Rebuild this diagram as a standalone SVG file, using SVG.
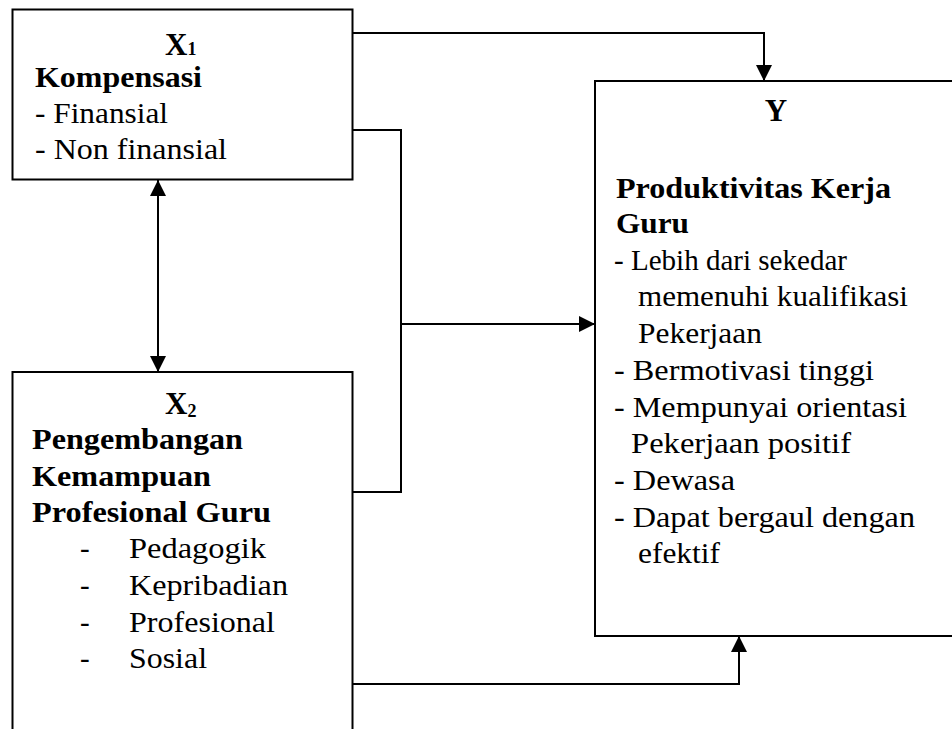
<svg xmlns="http://www.w3.org/2000/svg" width="952" height="729" viewBox="0 0 952 729">
<style>
  .box { fill: #fff; stroke: #000; stroke-width: 2; }
  .ln { fill: none; stroke: #000; stroke-width: 2; }
  text { font-family: 'Liberation Serif', 'Times New Roman', serif; font-size: 29px; fill: #000; }
  .b { font-weight: bold; }
  .xy { font-size: 31px; font-weight: bold; }
  .sub { font-size: 18px; font-weight: bold; }
</style>
<defs>
  <marker id="arr" viewBox="0 0 16 16" refX="16" refY="8" markerWidth="16" markerHeight="16" markerUnits="userSpaceOnUse" orient="auto-start-reverse">
    <path d="M0,0 L16,8 L0,16 z" fill="#000"/>
  </marker>
</defs>
<rect width="952" height="729" fill="#fff"/>

<g id="connectors">
  <path class="ln" d="M352,33 H764 V81" marker-end="url(#arr)"/>
  <path class="ln" d="M352,130 H401 V492 H352"/>
  <path class="ln" d="M401,324 H595" marker-end="url(#arr)"/>
  <path class="ln" d="M158,180 V372" marker-start="url(#arr)" marker-end="url(#arr)"/>
  <path class="ln" d="M352,684 H739 V636" marker-end="url(#arr)"/>
</g>

<g id="x1">
  <rect class="box" x="12.5" y="9.5" width="340" height="170"/>
  <text class="xy" x="165" y="55">X<tspan class="sub" dy="0">1</tspan></text>
  <text class="b" x="35" y="87" textLength="167" lengthAdjust="spacingAndGlyphs">Kompensasi</text>
  <text x="35" y="123" textLength="133" lengthAdjust="spacingAndGlyphs">- Finansial</text>
  <text x="35" y="159" textLength="192" lengthAdjust="spacingAndGlyphs">- Non finansial</text>
</g>

<g id="x2">
  <rect class="box" x="12.5" y="372" width="340" height="380"/>
  <text class="xy" x="165" y="414">X<tspan class="sub" dy="3">2</tspan></text>
  <text class="b" x="32" y="449" textLength="211" lengthAdjust="spacingAndGlyphs">Pengembangan</text>
  <text class="b" x="32" y="486" textLength="179" lengthAdjust="spacingAndGlyphs">Kemampuan</text>
  <text class="b" x="32" y="522" textLength="239" lengthAdjust="spacingAndGlyphs">Profesional Guru</text>
  <text x="80" y="558">-</text>
  <text x="129" y="558" textLength="137" lengthAdjust="spacingAndGlyphs">Pedagogik</text>
  <text x="80" y="595">-</text>
  <text x="129" y="595" textLength="159" lengthAdjust="spacingAndGlyphs">Kepribadian</text>
  <text x="80" y="632">-</text>
  <text x="129" y="632" textLength="146" lengthAdjust="spacingAndGlyphs">Profesional</text>
  <text x="80" y="668">-</text>
  <text x="129" y="668" textLength="78" lengthAdjust="spacingAndGlyphs">Sosial</text>
</g>

<g id="y">
  <rect class="box" x="595" y="81" width="370" height="555"/>
  <text class="xy" x="776" y="121" text-anchor="middle">Y</text>
  <text class="b" x="616" y="198" textLength="275" lengthAdjust="spacingAndGlyphs">Produktivitas Kerja</text>
  <text class="b" x="616" y="233" textLength="73" lengthAdjust="spacingAndGlyphs">Guru</text>
  <text x="614" y="270" textLength="233" lengthAdjust="spacingAndGlyphs">- Lebih dari sekedar</text>
  <text x="638" y="306" textLength="270" lengthAdjust="spacingAndGlyphs">memenuhi kualifikasi</text>
  <text x="638" y="343" textLength="124" lengthAdjust="spacingAndGlyphs">Pekerjaan</text>
  <text x="614" y="380" textLength="260" lengthAdjust="spacingAndGlyphs">- Bermotivasi tinggi</text>
  <text x="614" y="417" textLength="293" lengthAdjust="spacingAndGlyphs">- Mempunyai orientasi</text>
  <text x="631" y="453" textLength="220" lengthAdjust="spacingAndGlyphs">Pekerjaan positif</text>
  <text x="614" y="490" textLength="121" lengthAdjust="spacingAndGlyphs">- Dewasa</text>
  <text x="614" y="527" textLength="301" lengthAdjust="spacingAndGlyphs">- Dapat bergaul dengan</text>
  <text x="638" y="563" textLength="82" lengthAdjust="spacingAndGlyphs">efektif</text>
</g>
</svg>
